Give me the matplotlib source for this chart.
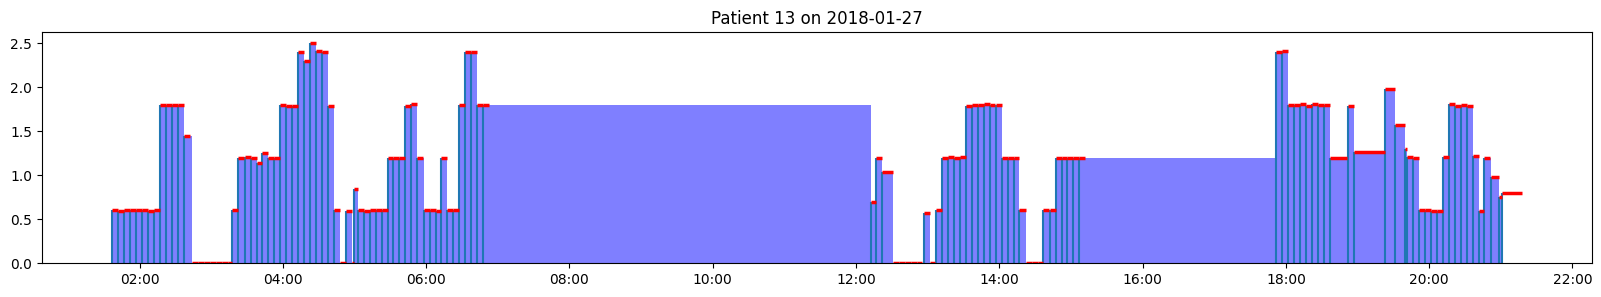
from datetime import datetime, timedelta

import matplotlib

matplotlib.use("Agg")
import matplotlib.dates as mdates
import matplotlib.pyplot as plt

DAY = datetime(2018, 1, 27)
TITLE = "Patient 13 on 2018-01-27"

# basal records: start (minutes after midnight), rate (U/h), programmed duration (min)
start_min = [
    97.2, 102.2, 107.2, 112.2, 117.2, 122.2, 127.2, 132.2, 137.2, 142.2, 147.2, 152.2, 157.2,
    164.1, 169.1, 174.1, 179.1, 184.1, 189.1, 194.1,
    197.7, 202.8, 207.9, 212.9, 217.9, 222.9, 227.9, 232.9, 237.9, 242.9, 247.9, 252.9,
    257.9, 262.9, 267.9, 272.9, 277.9, 282.9, 287.9, 292.9, 297.9, 299.2, 302.7,
    307.6, 312.6, 317.6, 322.6, 327.6, 332.6, 337.6, 342.6, 347.6, 352.6, 357.8, 362.8,
    367.8, 372.8, 377.8, 382.6, 387.2, 392.2, 397.2, 402.4, 407.6,
    732.9, 737.0, 742.1, 751.3, 756.3, 761.3, 766.3, 771.3, 776.9, 781.9,
    786.9, 791.9, 797.0, 802.0, 807.0, 812.0, 816.8, 821.8, 826.8, 831.8, 836.9,
    841.9, 846.9, 851.9, 856.9, 862.6, 867.6, 872.6,
    877.0, 882.1, 887.1, 892.1, 897.1, 902.1, 907.1,
    1071.4, 1076.5, 1081.5, 1086.5, 1091.5, 1096.5, 1101.6, 1106.6, 1111.6, 1116.6,
    1131.7, 1136.7, 1162.6, 1171.6, 1179.5, 1181.7, 1186.7, 1191.7, 1196.7, 1201.8,
    1206.8, 1211.8, 1216.8, 1221.8, 1226.8, 1231.9, 1236.9, 1241.6, 1246.3, 1251.4,
    1258.1, 1261.4,
]
rate = [
    0.60, 0.59, 0.60, 0.60, 0.60, 0.60, 0.59, 0.60, 1.80, 1.80, 1.80, 1.80, 1.45,
    0, 0, 0, 0, 0, 0, 0,
    0.60, 1.20, 1.21, 1.20, 1.14, 1.25, 1.20, 1.20, 1.80, 1.79, 1.79, 2.40,
    2.30, 2.50, 2.41, 2.40, 1.79, 0.60, 0, 0.59, 0, 0.84, 0.60,
    0.59, 0.60, 0.60, 0.60, 1.20, 1.20, 1.20, 1.79, 1.81, 1.20, 0.60, 0.60,
    0.59, 1.20, 0.60, 0.60, 1.80, 2.40, 2.40, 1.80, 1.80,
    0.70, 1.20, 1.04, 0, 0, 0, 0, 0, 0.57, 0,
    0.60, 1.20, 1.21, 1.20, 1.21, 1.79, 1.80, 1.80, 1.81, 1.80, 1.80,
    1.20, 1.20, 1.20, 0.60, 0, 0, 0,
    0.60, 0.60, 1.20, 1.20, 1.20, 1.20, 1.20,
    2.40, 2.41, 1.80, 1.80, 1.81, 1.79, 1.81, 1.80, 1.80, 1.20,
    1.79, 1.27, 1.98, 1.57, 1.30, 1.21, 1.20, 0.60, 0.60, 0.59,
    0.59, 1.21, 1.81, 1.79, 1.80, 1.79, 1.22, 0.59, 1.20, 0.98,
    0.75, 0.80,
]
duration_min = [
    5, 5, 5, 5, 5, 5, 5, 5, 5, 5, 5, 5, 5,
    5, 5, 5, 5, 5, 5, 3.5,
    5, 5, 5, 5, 5, 5, 5, 5, 5, 5, 5, 5,
    5, 5, 5, 5, 5, 5, 5, 5, 1.3, 3.5, 5,
    5, 5, 5, 5, 5, 5, 5, 5, 5, 5, 5, 5,
    5, 5, 5, 5, 5, 5, 5, 5, 5,
    4, 5, 9.2, 5, 5, 5, 5, 3.7, 5, 4,
    5, 5, 5, 5, 5, 5, 5, 5, 5, 5, 5,
    5, 5, 5, 5.7, 5, 5, 4.4,
    5, 5, 5, 5, 5, 5, 5,
    5, 5, 5, 5, 5, 5, 5, 5, 5, 15,
    5, 26, 9, 8, 2.2, 5, 5, 5, 5, 5,
    5, 5, 5, 5, 5, 5, 4.7, 4.7, 5, 6.7,
    3.3, 16,
]

t = [DAY + timedelta(minutes=m) for m in start_min]
t_end = [DAY + timedelta(minutes=m + d) for m, d in zip(start_min, duration_min)]
# each bar lasts until the next record starts
widths = [(start_min[i + 1] - start_min[i]) / 1440 for i in range(len(start_min) - 1)]

fig, ax = plt.subplots(figsize=(16.01, 2.97), dpi=100)
fig.subplots_adjust(left=0.0262, right=0.9944, top=0.8912, bottom=0.1135)

ax.bar(t[:-1], rate[:-1], width=widths, align="edge", color="blue", alpha=0.5, linewidth=0)
ax.vlines(t, 0, rate, color="C0")
ax.hlines(rate, t, t_end, color="red", linewidth=2.5)

ax.xaxis.set_major_locator(mdates.HourLocator(byhour=range(0, 24, 2)))
ax.xaxis.set_major_formatter(mdates.DateFormatter("%H:%M"))
ax.set_title(TITLE)

fig.savefig("out.png")
